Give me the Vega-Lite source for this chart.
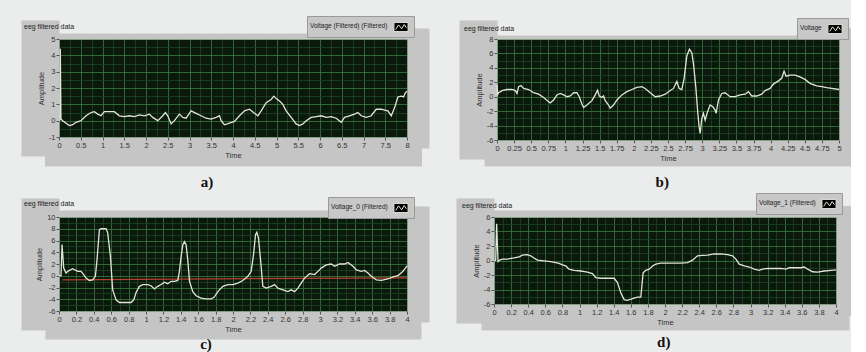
{
  "$schema": "https://vega.github.io/schema/vega-lite/v6.json",
  "background": "#ebecec",
  "padding": {"left": 23, "top": 15, "right": 0, "bottom": 0},
  "datasets": {
    "a": [
      {"t":0,"v":0},{"t":0.02,"v":0.05},{"t":0.03,"v":4.4},{"t":0.045,"v":0.1},{"t":0.084,"v":0},{"t":0.238,"v":-0.3},{"t":0.314,"v":-0.25},{"t":0.391,"v":-0.1},{"t":0.506,"v":0},{"t":0.621,"v":0.3},{"t":0.736,"v":0.5},{"t":0.813,"v":0.55},{"t":0.89,"v":0.4},{"t":0.966,"v":0.3},{"t":1.043,"v":0.55},{"t":1.12,"v":0.55},{"t":1.273,"v":0.55},{"t":1.388,"v":0.3},{"t":1.503,"v":0.25},{"t":1.618,"v":0.3},{"t":1.733,"v":0.25},{"t":1.848,"v":0.35},{"t":1.963,"v":0.3},{"t":2.078,"v":0.4},{"t":2.155,"v":0.2},{"t":2.27,"v":0},{"t":2.385,"v":0.3},{"t":2.446,"v":0.5},{"t":2.5,"v":0.3},{"t":2.577,"v":-0.2},{"t":2.653,"v":0},{"t":2.768,"v":0.4},{"t":2.845,"v":0.2},{"t":2.922,"v":0.15},{"t":3.037,"v":0.6},{"t":3.152,"v":0.45},{"t":3.267,"v":0.3},{"t":3.382,"v":0.15},{"t":3.497,"v":0.1},{"t":3.612,"v":0.2},{"t":3.689,"v":0.3},{"t":3.727,"v":0},{"t":3.804,"v":-0.25},{"t":3.919,"v":-0.15},{"t":4.034,"v":-0.05},{"t":4.149,"v":0.3},{"t":4.264,"v":0.6},{"t":4.379,"v":0.7},{"t":4.494,"v":0.45},{"t":4.571,"v":0.3},{"t":4.647,"v":0.6},{"t":4.762,"v":1.1},{"t":4.877,"v":1.3},{"t":4.939,"v":1.5},{"t":4.992,"v":1.35},{"t":5.069,"v":1.2},{"t":5.146,"v":1.0},{"t":5.222,"v":0.6},{"t":5.337,"v":0.2},{"t":5.452,"v":-0.2},{"t":5.529,"v":-0.3},{"t":5.606,"v":-0.2},{"t":5.683,"v":0},{"t":5.798,"v":0.2},{"t":5.913,"v":0.25},{"t":6.028,"v":0.3},{"t":6.143,"v":0.2},{"t":6.258,"v":0.25},{"t":6.373,"v":0.15},{"t":6.488,"v":-0.1},{"t":6.564,"v":0.2},{"t":6.679,"v":0.3},{"t":6.794,"v":0.4},{"t":6.871,"v":0.5},{"t":6.948,"v":0.3},{"t":7.063,"v":0.2},{"t":7.178,"v":0.3},{"t":7.293,"v":0.7},{"t":7.408,"v":0.7},{"t":7.485,"v":0.65},{"t":7.561,"v":0.6},{"t":7.638,"v":0.3},{"t":7.715,"v":0.8},{"t":7.791,"v":1.45},{"t":7.868,"v":1.5},{"t":7.922,"v":1.45},{"t":7.96,"v":1.7},{"t":8.0,"v":1.8}
    ],
    "b": [
      {"t":0,"v":1.6},{"t":0.01,"v":0.3},{"t":0.024,"v":0.55},{"t":0.073,"v":0.85},{"t":0.146,"v":1.0},{"t":0.219,"v":1.0},{"t":0.268,"v":0.85},{"t":0.292,"v":0.45},{"t":0.316,"v":1.4},{"t":0.35,"v":1.55},{"t":0.389,"v":1.15},{"t":0.463,"v":1.0},{"t":0.536,"v":0.55},{"t":0.608,"v":0.35},{"t":0.682,"v":-0.1},{"t":0.755,"v":-0.7},{"t":0.779,"v":-0.85},{"t":0.828,"v":-0.45},{"t":0.876,"v":0.25},{"t":0.925,"v":0.45},{"t":0.974,"v":0.25},{"t":1.022,"v":0},{"t":1.071,"v":0.1},{"t":1.12,"v":0.55},{"t":1.168,"v":0.55},{"t":1.203,"v":0},{"t":1.241,"v":-1.0},{"t":1.266,"v":-1.5},{"t":1.314,"v":-1.15},{"t":1.388,"v":-0.55},{"t":1.436,"v":0.25},{"t":1.47,"v":0.9},{"t":1.495,"v":0.1},{"t":1.534,"v":-0.1},{"t":1.558,"v":0.1},{"t":1.582,"v":-0.55},{"t":1.631,"v":-1.15},{"t":1.655,"v":-1.6},{"t":1.704,"v":-1.15},{"t":1.753,"v":-0.45},{"t":1.826,"v":0.25},{"t":1.899,"v":0.7},{"t":1.972,"v":1.0},{"t":2.045,"v":1.3},{"t":2.118,"v":1.4},{"t":2.166,"v":1.15},{"t":2.24,"v":0.55},{"t":2.313,"v":0},{"t":2.386,"v":0.1},{"t":2.459,"v":0.35},{"t":2.532,"v":0.85},{"t":2.58,"v":1.15},{"t":2.629,"v":2.1},{"t":2.663,"v":1.15},{"t":2.702,"v":1.0},{"t":2.736,"v":2.55},{"t":2.775,"v":5.65},{"t":2.814,"v":6.6},{"t":2.848,"v":6.1},{"t":2.872,"v":4.6},{"t":2.906,"v":1.4},{"t":2.936,"v":-2.3},{"t":2.955,"v":-4.15},{"t":2.97,"v":-5.1},{"t":2.994,"v":-3.0},{"t":3.018,"v":-2.3},{"t":3.043,"v":-3.25},{"t":3.077,"v":-2.1},{"t":3.116,"v":-1.15},{"t":3.155,"v":-1.4},{"t":3.189,"v":-1.85},{"t":3.203,"v":-2.3},{"t":3.238,"v":-0.45},{"t":3.286,"v":0.45},{"t":3.335,"v":0.55},{"t":3.408,"v":0},{"t":3.481,"v":0},{"t":3.554,"v":0.25},{"t":3.627,"v":0.35},{"t":3.676,"v":0.7},{"t":3.724,"v":0.1},{"t":3.797,"v":0.1},{"t":3.87,"v":0.35},{"t":3.919,"v":0.85},{"t":3.992,"v":1.15},{"t":4.041,"v":1.75},{"t":4.114,"v":2.2},{"t":4.163,"v":2.55},{"t":4.197,"v":3.55},{"t":4.226,"v":2.85},{"t":4.284,"v":3.0},{"t":4.357,"v":3.0},{"t":4.43,"v":2.75},{"t":4.503,"v":2.4},{"t":4.576,"v":1.85},{"t":4.674,"v":1.5},{"t":4.747,"v":1.4},{"t":4.82,"v":1.25},{"t":4.893,"v":1.15},{"t":5.0,"v":1.0}
    ],
    "c": [
      {"t":0,"v":0},{"t":0.023,"v":0},{"t":0.035,"v":5.3},{"t":0.054,"v":1.3},{"t":0.081,"v":0.45},{"t":0.1,"v":0.75},{"t":0.157,"v":1.2},{"t":0.215,"v":0.75},{"t":0.253,"v":0.75},{"t":0.284,"v":0.2},{"t":0.311,"v":-0.4},{"t":0.349,"v":-0.8},{"t":0.387,"v":-0.7},{"t":0.418,"v":-0.1},{"t":0.437,"v":2.7},{"t":0.464,"v":7.8},{"t":0.483,"v":8.0},{"t":0.541,"v":8.0},{"t":0.56,"v":7.3},{"t":0.591,"v":3.3},{"t":0.617,"v":-2.4},{"t":0.656,"v":-4.1},{"t":0.694,"v":-4.55},{"t":0.771,"v":-4.55},{"t":0.828,"v":-4.55},{"t":0.859,"v":-4.1},{"t":0.886,"v":-2.85},{"t":0.924,"v":-1.8},{"t":0.963,"v":-1.5},{"t":1.02,"v":-1.5},{"t":1.058,"v":-1.7},{"t":1.097,"v":-2.25},{"t":1.135,"v":-1.8},{"t":1.174,"v":-1.5},{"t":1.212,"v":-1.1},{"t":1.25,"v":-1.35},{"t":1.289,"v":-0.95},{"t":1.327,"v":-0.95},{"t":1.365,"v":-0.8},{"t":1.384,"v":0.75},{"t":1.404,"v":3.3},{"t":1.423,"v":5.3},{"t":1.442,"v":5.8},{"t":1.461,"v":5.3},{"t":1.48,"v":2.7},{"t":1.5,"v":-0.95},{"t":1.538,"v":-2.7},{"t":1.576,"v":-3.4},{"t":1.634,"v":-3.8},{"t":1.691,"v":-3.95},{"t":1.749,"v":-3.95},{"t":1.787,"v":-3.6},{"t":1.826,"v":-2.7},{"t":1.883,"v":-1.8},{"t":1.941,"v":-1.5},{"t":1.998,"v":-1.5},{"t":2.056,"v":-1.25},{"t":2.113,"v":-0.8},{"t":2.171,"v":-0.1},{"t":2.209,"v":0.75},{"t":2.236,"v":3.6},{"t":2.259,"v":7.0},{"t":2.274,"v":7.4},{"t":2.293,"v":6.4},{"t":2.317,"v":2.7},{"t":2.343,"v":-1.8},{"t":2.382,"v":-2.1},{"t":2.439,"v":-1.8},{"t":2.478,"v":-1.5},{"t":2.516,"v":-2.1},{"t":2.573,"v":-2.4},{"t":2.631,"v":-2.7},{"t":2.669,"v":-2.4},{"t":2.708,"v":-2.7},{"t":2.746,"v":-2.1},{"t":2.784,"v":-1.25},{"t":2.823,"v":-0.4},{"t":2.88,"v":0.35},{"t":2.938,"v":0.2},{"t":2.976,"v":0.75},{"t":3.014,"v":1.3},{"t":3.072,"v":1.85},{"t":3.129,"v":2.0},{"t":3.168,"v":1.6},{"t":3.225,"v":2.0},{"t":3.283,"v":2.0},{"t":3.321,"v":2.25},{"t":3.379,"v":1.6},{"t":3.417,"v":1.0},{"t":3.475,"v":0.75},{"t":3.513,"v":0.9},{"t":3.551,"v":0.45},{"t":3.59,"v":-0.1},{"t":3.647,"v":-0.7},{"t":3.705,"v":-0.8},{"t":3.781,"v":-0.55},{"t":3.839,"v":-0.2},{"t":3.896,"v":0},{"t":3.954,"v":0.75},{"t":4.0,"v":1.7}
    ],
    "cred": [{"t":0.04,"v":-0.7},{"t":4.0,"v":-0.35}],
    "d": [
      {"t":0,"v":-0.15},{"t":0.02,"v":0.05},{"t":0.031,"v":5.05},{"t":0.047,"v":-0.15},{"t":0.066,"v":0.05},{"t":0.098,"v":0.2},{"t":0.156,"v":0.2},{"t":0.234,"v":0.35},{"t":0.293,"v":0.5},{"t":0.332,"v":0.75},{"t":0.39,"v":0.8},{"t":0.429,"v":0.65},{"t":0.468,"v":0.35},{"t":0.507,"v":0.05},{"t":0.585,"v":-0.05},{"t":0.663,"v":-0.15},{"t":0.722,"v":-0.3},{"t":0.761,"v":-0.4},{"t":0.8,"v":-0.6},{"t":0.839,"v":-0.75},{"t":0.878,"v":-1.2},{"t":0.937,"v":-1.35},{"t":1.015,"v":-1.45},{"t":1.093,"v":-1.6},{"t":1.151,"v":-1.8},{"t":1.19,"v":-2.35},{"t":1.249,"v":-2.45},{"t":1.327,"v":-2.45},{"t":1.405,"v":-2.45},{"t":1.444,"v":-3.05},{"t":1.483,"v":-4.45},{"t":1.522,"v":-5.4},{"t":1.561,"v":-5.5},{"t":1.62,"v":-5.25},{"t":1.678,"v":-5.05},{"t":1.717,"v":-5.05},{"t":1.744,"v":-1.7},{"t":1.776,"v":-1.35},{"t":1.815,"v":-1.2},{"t":1.854,"v":-0.75},{"t":1.893,"v":-0.5},{"t":1.951,"v":-0.35},{"t":2.029,"v":-0.35},{"t":2.107,"v":-0.35},{"t":2.185,"v":-0.35},{"t":2.263,"v":-0.3},{"t":2.322,"v":0.05},{"t":2.38,"v":0.65},{"t":2.439,"v":0.7},{"t":2.498,"v":0.75},{"t":2.576,"v":0.9},{"t":2.654,"v":0.9},{"t":2.732,"v":0.8},{"t":2.79,"v":0.65},{"t":2.829,"v":0.2},{"t":2.868,"v":-0.5},{"t":2.927,"v":-0.75},{"t":2.985,"v":-0.9},{"t":3.044,"v":-1.2},{"t":3.102,"v":-1.35},{"t":3.141,"v":-1.2},{"t":3.2,"v":-1.1},{"t":3.278,"v":-1.1},{"t":3.356,"v":-1.1},{"t":3.415,"v":-1.2},{"t":3.454,"v":-1.0},{"t":3.532,"v":-1.0},{"t":3.59,"v":-1.0},{"t":3.629,"v":-0.9},{"t":3.668,"v":-1.2},{"t":3.727,"v":-1.55},{"t":3.785,"v":-1.6},{"t":3.863,"v":-1.45},{"t":3.941,"v":-1.35},{"t":4.0,"v":-1.3}
    ]
  },
  "config": {
    "view": {"fill": "#0a190c", "stroke": "#5a5a5a", "strokeWidth": 1},
    "axis": {"labelFont": "Liberation Sans", "labelFontSize": 7.5, "labelColor": "#333333", "titleFont": "Liberation Sans", "titleFontSize": 7.5, "titleFontWeight": "normal", "titleColor": "#333333", "domain": false, "tickColor": "#555555", "tickSize": 3, "labelPadding": 1, "titlePadding": 3, "gridOpacity": 1, "gridWidth": 0.8, "labelExpr": "'' + datum.value", "labelFlush": false, "labelOverlap": false, "domainColor": "#c5c5c5", "domainCap": "square"},
    "title": {"font": "Liberation Sans", "fontSize": 7, "fontWeight": "normal", "color": "#222222", "anchor": "start", "frame": "group", "offset": 2},
    "legend": {"orient": "none", "direction": "horizontal", "fillColor": "#c8c8c8", "strokeColor": "#9a9a9a", "padding": 3, "titleOrient": "left", "titleFont": "Liberation Sans", "titleFontSize": 6.5, "titleFontWeight": "normal", "titleColor": "#222222", "titlePadding": 5, "labelFontSize": 1, "labelOffset": 0, "symbolType": "M-1,-0.65H1V0.65H-1Z M-0.75,0.35L-0.35,-0.3L0.1,0.25L0.45,-0.35L0.75,0.1", "symbolSize": 200}
  },
  "resolve": {"scale": {"color": "independent", "x": "independent", "y": "independent"}, "legend": {"color": "independent"}},
  "spacing": 2,
  "vconcat": [
    {
      "spacing": 44,
      "resolve": {"scale": {"color": "independent", "x": "independent", "y": "independent"}, "legend": {"color": "independent"}},
      "hconcat": [
        {
          "title": {"text": "a)", "orient": "bottom", "anchor": "middle", "frame": "bounds", "font": "Liberation Serif", "fontSize": 15, "fontWeight": "bold", "color": "#111111", "offset": 15, "dx": -14},
          "resolve": {"scale": {"color": "independent"}, "legend": {"color": "independent"}},
          "vconcat": [
            {
              "width": 348, "height": 98,
              "title": {"text": "eeg filtered data", "dx": -35, "dy": 16},
              "data": {"name": "a"},
              "resolve": {"axis": {"x": "independent", "y": "independent"}},
              "layer": [
                {
                  "mark": {"type": "line", "strokeOpacity": 0},
                  "encoding": {
                    "x": {"field": "t", "type": "quantitative", "scale": {"domain": [0, 8], "nice": false}, "axis": {"orient": "top", "offset": 3, "domain": true, "domainWidth": 6, "labels": false, "ticks": false, "grid": false, "title": null, "zindex": 0}},
                    "y": {"field": "v", "type": "quantitative", "scale": {"domain": [-1, 5], "nice": false}, "axis": {"orient": "left", "offset": 19, "domain": true, "domainWidth": 38, "labels": false, "ticks": false, "grid": false, "title": null, "zindex": 0}}
                  }
                },
                {
                  "mark": {"type": "line", "strokeOpacity": 0},
                  "encoding": {
                    "x": {"field": "t", "type": "quantitative", "axis": {"orient": "bottom", "offset": 14.5, "domain": true, "domainWidth": 29, "labels": false, "ticks": false, "grid": false, "title": null, "zindex": 0}},
                    "y": {"field": "v", "type": "quantitative", "axis": {"orient": "right", "offset": 11, "domain": true, "domainWidth": 22, "labels": false, "ticks": false, "grid": false, "title": null, "zindex": 0}}
                  }
                },
                {
                  "mark": {"type": "line", "strokeOpacity": 0},
                  "encoding": {
                    "x": {"field": "t", "type": "quantitative", "axis": {"orient": "top", "values": [0,0.25,0.5,0.75,1,1.25,1.5,1.75,2,2.25,2.5,2.75,3,3.25,3.5,3.75,4,4.25,4.5,4.75,5,5.25,5.5,5.75,6,6.25,6.5,6.75,7,7.25,7.5,7.75,8], "labels": false, "ticks": false, "grid": true, "title": null, "zindex": 0, "gridColor": {"condition": {"test": "round(datum.value*1000) % 500 === 0", "value": "#3b7b40"}, "value": "#1d4422"}}},
                    "y": {"field": "v", "type": "quantitative", "axis": {"orient": "right", "values": [-1,-0.5,0,0.5,1,1.5,2,2.5,3,3.5,4,4.5,5], "labels": false, "ticks": false, "grid": true, "title": null, "zindex": 0, "gridColor": {"condition": {"test": "round(datum.value*1000) % 1000 === 0", "value": "#3b7b40"}, "value": "#1d4422"}}}
                  }
                },
                {
                  "mark": {"type": "line", "strokeWidth": 1.3},
                  "encoding": {
                    "x": {"field": "t", "type": "quantitative", "axis": {"orient": "bottom", "title": "Time", "values": [0,0.5,1,1.5,2,2.5,3,3.5,4,4.5,5,5.5,6,6.5,7,7.5,8], "grid": false, "zindex": 1}},
                    "y": {"field": "v", "type": "quantitative", "axis": {"orient": "left", "title": "Amplitude", "values": [-1,0,1,2,3,4,5], "grid": false, "zindex": 1}},
                    "color": {"datum": "Voltage (Filtered) (Filtered)", "scale": {"range": ["#e4e4d8"]}, "legend": {"title": "Voltage (Filtered) (Filtered)", "labelExpr": "''", "legendX": 248, "legendY": -23, "symbolFillColor": "#000000", "symbolStrokeColor": "#bbbbbb", "symbolStrokeWidth": 1}}
                  }
                }
              ]
            }
          ]
        },
        {
          "title": {"text": "b)", "orient": "bottom", "anchor": "middle", "frame": "bounds", "font": "Liberation Serif", "fontSize": 15, "fontWeight": "bold", "color": "#111111", "offset": 12, "dx": 5},
          "resolve": {"scale": {"color": "independent"}, "legend": {"color": "independent"}},
          "vconcat": [
            {
              "width": 342, "height": 101,
              "title": {"text": "eeg filtered data", "dx": -33, "dy": 16},
              "data": {"name": "b"},
              "resolve": {"axis": {"x": "independent", "y": "independent"}},
              "layer": [
                {
                  "mark": {"type": "line", "strokeOpacity": 0},
                  "encoding": {
                    "x": {"field": "t", "type": "quantitative", "scale": {"domain": [0, 5], "nice": false}, "axis": {"orient": "top", "offset": 2, "domain": true, "domainWidth": 4, "labels": false, "ticks": false, "grid": false, "title": null, "zindex": 0}},
                    "y": {"field": "v", "type": "quantitative", "scale": {"domain": [-6, 8], "nice": false}, "axis": {"orient": "left", "offset": 19, "domain": true, "domainWidth": 38, "labels": false, "ticks": false, "grid": false, "title": null, "zindex": 0}}
                  }
                },
                {
                  "mark": {"type": "line", "strokeOpacity": 0},
                  "encoding": {
                    "x": {"field": "t", "type": "quantitative", "axis": {"orient": "bottom", "offset": 13, "domain": true, "domainWidth": 26, "labels": false, "ticks": false, "grid": false, "title": null, "zindex": 0}},
                    "y": {"field": "v", "type": "quantitative", "axis": {"orient": "right", "offset": 11.5, "domain": true, "domainWidth": 23, "labels": false, "ticks": false, "grid": false, "title": null, "zindex": 0}}
                  }
                },
                {
                  "mark": {"type": "line", "strokeOpacity": 0},
                  "encoding": {
                    "x": {"field": "t", "type": "quantitative", "axis": {"orient": "top", "values": [0,0.125,0.25,0.375,0.5,0.625,0.75,0.875,1,1.125,1.25,1.375,1.5,1.625,1.75,1.875,2,2.125,2.25,2.375,2.5,2.625,2.75,2.875,3,3.125,3.25,3.375,3.5,3.625,3.75,3.875,4,4.125,4.25,4.375,4.5,4.625,4.75,4.875,5], "labels": false, "ticks": false, "grid": true, "title": null, "zindex": 0, "gridColor": {"condition": {"test": "round(datum.value*1000) % 250 === 0", "value": "#3b7b40"}, "value": "#1d4422"}}},
                    "y": {"field": "v", "type": "quantitative", "axis": {"orient": "right", "values": [-6,-5,-4,-3,-2,-1,0,1,2,3,4,5,6,7,8], "labels": false, "ticks": false, "grid": true, "title": null, "zindex": 0, "gridColor": {"condition": {"test": "round(datum.value*1000) % 2000 === 0", "value": "#3b7b40"}, "value": "#1d4422"}}}
                  }
                },
                {
                  "mark": {"type": "line", "strokeWidth": 1.3},
                  "encoding": {
                    "x": {"field": "t", "type": "quantitative", "axis": {"orient": "bottom", "title": "Time", "values": [0,0.25,0.5,0.75,1,1.25,1.5,1.75,2,2.25,2.5,2.75,3,3.25,3.5,3.75,4,4.25,4.5,4.75,5], "grid": false, "zindex": 1}},
                    "y": {"field": "v", "type": "quantitative", "axis": {"orient": "left", "title": "Amplitude", "values": [-6,-4,-2,0,2,4,6,8], "grid": false, "zindex": 1}},
                    "color": {"datum": "Voltage", "scale": {"range": ["#e4e4d8"]}, "legend": {"title": "Voltage", "labelExpr": "''", "legendX": 300, "legendY": -21, "symbolFillColor": "#000000", "symbolStrokeColor": "#bbbbbb", "symbolStrokeWidth": 1}}
                  }
                }
              ]
            }
          ]
        }
      ]
    },
    {
      "spacing": 42,
      "resolve": {"scale": {"color": "independent", "x": "independent", "y": "independent"}, "legend": {"color": "independent"}},
      "hconcat": [
        {
          "title": {"text": "c)", "orient": "bottom", "anchor": "middle", "frame": "bounds", "font": "Liberation Serif", "fontSize": 15, "fontWeight": "bold", "color": "#111111", "offset": 3, "dx": -15},
          "resolve": {"scale": {"color": "independent"}, "legend": {"color": "independent"}},
          "vconcat": [
            {
              "width": 348, "height": 94,
              "title": {"text": "eeg filtered data", "dx": -35, "dy": 12},
              "resolve": {"axis": {"x": "independent", "y": "independent"}},
              "layer": [
                {
                  "data": {"name": "c"},
                  "mark": {"type": "line", "strokeOpacity": 0},
                  "encoding": {
                    "x": {"field": "t", "type": "quantitative", "scale": {"domain": [0, 4], "nice": false}, "axis": {"orient": "top", "offset": 3.5, "domain": true, "domainWidth": 7, "labels": false, "ticks": false, "grid": false, "title": null, "zindex": 0}},
                    "y": {"field": "v", "type": "quantitative", "scale": {"domain": [-6, 10], "nice": false}, "axis": {"orient": "left", "offset": 19, "domain": true, "domainWidth": 38, "labels": false, "ticks": false, "grid": false, "title": null, "zindex": 0}}
                  }
                },
                {
                  "data": {"name": "c"},
                  "mark": {"type": "line", "strokeOpacity": 0},
                  "encoding": {
                    "x": {"field": "t", "type": "quantitative", "axis": {"orient": "bottom", "offset": 14, "domain": true, "domainWidth": 28, "labels": false, "ticks": false, "grid": false, "title": null, "zindex": 0}},
                    "y": {"field": "v", "type": "quantitative", "axis": {"orient": "right", "offset": 11, "domain": true, "domainWidth": 22, "labels": false, "ticks": false, "grid": false, "title": null, "zindex": 0}}
                  }
                },
                {
                  "data": {"name": "c"},
                  "mark": {"type": "line", "strokeOpacity": 0},
                  "encoding": {
                    "x": {"field": "t", "type": "quantitative", "axis": {"orient": "top", "values": [0,0.1,0.2,0.3,0.4,0.5,0.6,0.7,0.8,0.9,1,1.1,1.2,1.3,1.4,1.5,1.6,1.7,1.8,1.9,2,2.1,2.2,2.3,2.4,2.5,2.6,2.7,2.8,2.9,3,3.1,3.2,3.3,3.4,3.5,3.6,3.7,3.8,3.9,4], "labels": false, "ticks": false, "grid": true, "title": null, "zindex": 0, "gridColor": {"condition": {"test": "round(datum.value*1000) % 200 === 0", "value": "#3b7b40"}, "value": "#1d4422"}}},
                    "y": {"field": "v", "type": "quantitative", "axis": {"orient": "right", "values": [-6,-5,-4,-3,-2,-1,0,1,2,3,4,5,6,7,8,9,10], "labels": false, "ticks": false, "grid": true, "title": null, "zindex": 0, "gridColor": {"condition": {"test": "round(datum.value*1000) % 2000 === 0", "value": "#3b7b40"}, "value": "#1d4422"}}}
                  }
                },
                {
                  "data": {"name": "cred"},
                  "mark": {"type": "line", "color": "#b8402e", "strokeWidth": 1.2},
                  "encoding": {
                    "x": {"field": "t", "type": "quantitative", "axis": null},
                    "y": {"field": "v", "type": "quantitative", "axis": null}
                  }
                },
                {
                  "data": {"name": "c"},
                  "mark": {"type": "line", "strokeWidth": 1.3},
                  "encoding": {
                    "x": {"field": "t", "type": "quantitative", "axis": {"orient": "bottom", "title": "Time", "values": [0,0.2,0.4,0.6,0.8,1,1.2,1.4,1.6,1.8,2,2.2,2.4,2.6,2.8,3,3.2,3.4,3.6,3.8,4], "grid": false, "zindex": 1}},
                    "y": {"field": "v", "type": "quantitative", "axis": {"orient": "left", "title": "Amplitude", "values": [-6,-4,-2,0,2,4,6,8,10], "grid": false, "zindex": 1}},
                    "color": {"datum": "Voltage_0 (Filtered)", "scale": {"range": ["#e4e4d8"]}, "legend": {"title": "Voltage_0 (Filtered)", "labelExpr": "''", "legendX": 269, "legendY": -20, "symbolFillColor": "#000000", "symbolStrokeColor": "#bbbbbb", "symbolStrokeWidth": 1}}
                  }
                }
              ]
            }
          ]
        },
        {
          "title": {"text": "d)", "orient": "bottom", "anchor": "middle", "frame": "bounds", "font": "Liberation Serif", "fontSize": 15, "fontWeight": "bold", "color": "#111111", "offset": 8, "dx": 9},
          "resolve": {"scale": {"color": "independent"}, "legend": {"color": "independent"}},
          "vconcat": [
            {
              "width": 342, "height": 87,
              "title": {"text": "eeg filtered data", "dx": -32, "dy": 18},
              "data": {"name": "d"},
              "resolve": {"axis": {"x": "independent", "y": "independent"}},
              "layer": [
                {
                  "mark": {"type": "line", "strokeOpacity": 0},
                  "encoding": {
                    "x": {"field": "t", "type": "quantitative", "scale": {"domain": [0, 4], "nice": false}, "axis": {"orient": "top", "offset": 3.5, "domain": true, "domainWidth": 7, "labels": false, "ticks": false, "grid": false, "title": null, "zindex": 0}},
                    "y": {"field": "v", "type": "quantitative", "scale": {"domain": [-6, 6], "nice": false}, "axis": {"orient": "left", "offset": 19, "domain": true, "domainWidth": 38, "labels": false, "ticks": false, "grid": false, "title": null, "zindex": 0}}
                  }
                },
                {
                  "mark": {"type": "line", "strokeOpacity": 0},
                  "encoding": {
                    "x": {"field": "t", "type": "quantitative", "axis": {"orient": "bottom", "offset": 13, "domain": true, "domainWidth": 26, "labels": false, "ticks": false, "grid": false, "title": null, "zindex": 0}},
                    "y": {"field": "v", "type": "quantitative", "axis": {"orient": "right", "offset": 11.5, "domain": true, "domainWidth": 23, "labels": false, "ticks": false, "grid": false, "title": null, "zindex": 0}}
                  }
                },
                {
                  "mark": {"type": "line", "strokeOpacity": 0},
                  "encoding": {
                    "x": {"field": "t", "type": "quantitative", "axis": {"orient": "top", "values": [0,0.1,0.2,0.3,0.4,0.5,0.6,0.7,0.8,0.9,1,1.1,1.2,1.3,1.4,1.5,1.6,1.7,1.8,1.9,2,2.1,2.2,2.3,2.4,2.5,2.6,2.7,2.8,2.9,3,3.1,3.2,3.3,3.4,3.5,3.6,3.7,3.8,3.9,4], "labels": false, "ticks": false, "grid": true, "title": null, "zindex": 0, "gridColor": {"condition": {"test": "round(datum.value*1000) % 200 === 0", "value": "#3b7b40"}, "value": "#1d4422"}}},
                    "y": {"field": "v", "type": "quantitative", "axis": {"orient": "right", "values": [-6,-5,-4,-3,-2,-1,0,1,2,3,4,5,6], "labels": false, "ticks": false, "grid": true, "title": null, "zindex": 0, "gridColor": {"condition": {"test": "round(datum.value*1000) % 2000 === 0", "value": "#3b7b40"}, "value": "#1d4422"}}}
                  }
                },
                {
                  "mark": {"type": "line", "strokeWidth": 1.3},
                  "encoding": {
                    "x": {"field": "t", "type": "quantitative", "axis": {"orient": "bottom", "title": "Time", "values": [0,0.2,0.4,0.6,0.8,1,1.2,1.4,1.6,1.8,2,2.2,2.4,2.6,2.8,3,3.2,3.4,3.6,3.8,4], "grid": false, "zindex": 1}},
                    "y": {"field": "v", "type": "quantitative", "axis": {"orient": "left", "title": "Amplitude", "values": [-6,-4,-2,0,2,4,6], "grid": false, "zindex": 1}},
                    "color": {"datum": "Voltage_1 (Filtered)", "scale": {"range": ["#e4e4d8"]}, "legend": {"title": "Voltage_1 (Filtered)", "labelExpr": "''", "legendX": 262, "legendY": -24, "symbolFillColor": "#000000", "symbolStrokeColor": "#bbbbbb", "symbolStrokeWidth": 1}}
                  }
                }
              ]
            }
          ]
        }
      ]
    }
  ]
}
